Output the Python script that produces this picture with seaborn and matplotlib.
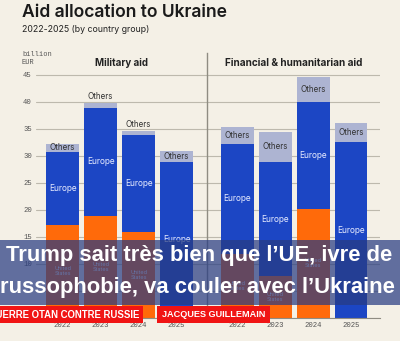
import matplotlib
matplotlib.use("Agg")
import matplotlib.pyplot as plt
import seaborn as sns
import pandas as pd
from matplotlib.patches import Rectangle

years = ["2022", "2023", "2024", "2025"]
mil_us = [17.2, 18.9, 15.9, 0.0]
mil_europe = [13.5, 19.9, 18.0, 28.9]
mil_others = [1.5, 1.0, 0.7, 1.9]
fin_us = [11.9, 7.7, 20.2, 0.0]
fin_europe = [20.3, 21.2, 19.7, 32.5]
fin_others = [3.1, 5.5, 4.7, 3.5]
yticks = [0, 5, 10, 15, 20, 25, 30, 35, 40, 45]
panel_titles = ["Military aid", "Financial & humanitarian aid"]

BG = "#f4f0e6"
BLUE = "#1c46c4"
ORANGE = "#ff6a0a"
GRAY = "#adb4d2"
GRID = "#bdb9ad"
TXT = "#555555"

sns.set_theme(style="white")
plt.rcParams["font.family"] = ["Inter", "DejaVu Sans"]

W, H = 400, 341
fig = plt.figure(figsize=(W / 100, H / 100), dpi=100, facecolor=BG)
x0, x1, xm = 36 / W, 380 / W, 207 / W
yb, yt = 1 - 318 / H, 1 - 53 / H
axL = fig.add_axes([x0, yb, xm - x0, yt - yb])
axR = fig.add_axes([xm, yb, x1 - xm, yt - yb], sharey=axL)

mono = ["Liberation Mono", "DejaVu Sans Mono"]

def draw(ax, us, eu, ot, title, tsize, xlim):
    df = pd.DataFrame({"year": years, "us": us, "eu": eu, "ot": ot})
    df["top_eu"] = df["us"] + df["eu"]
    df["total"] = df["top_eu"] + df["ot"]
    ax.set_facecolor(BG)
    kw = dict(x="year", width=0.86, saturation=1, errorbar=None, ax=ax,
              order=years, linewidth=0)
    sns.barplot(data=df, y="total", color=GRAY, **kw)
    sns.barplot(data=df, y="top_eu", color=BLUE, **kw)
    sns.barplot(data=df, y="us", color=ORANGE, **kw)
    for i, r in df.iterrows():
        if r["us"] > 0:
            ax.text(i, r["us"] / 2, "United\nStates", ha="center", va="center",
                    color="white", fontsize=4, linespacing=1.0)
        ax.text(i, r["us"] + r["eu"] / 2, "Europe", ha="center", va="center",
                color="#e8ecff", fontsize=6)
        if r["ot"] >= 1.3:
            yo, va = r["top_eu"] + r["ot"] / 2, "center"
        else:
            yo, va = r["total"] + 0.4, "bottom"
        ax.text(i, yo, "Others", ha="center", va=va, color="#333333", fontsize=5.8)
    ax.text(0.5, 47.2, title, transform=ax.get_yaxis_transform(),
            ha="center", va="center", fontsize=tsize, fontweight="bold", color="#222222")
    ax.set_xlim(*xlim)
    ax.set_ylim(0, 49)
    ax.set_yticks(yticks)
    ax.yaxis.grid(True, color=GRID, lw=0.8)
    ax.set_axisbelow(True)
    for s in ["top", "right"]:
        ax.spines[s].set_visible(False)
    ax.spines["bottom"].set_color("#8f8c82")
    ax.spines["bottom"].set_linewidth(0.8)
    ax.set_xlabel("")
    ax.set_ylabel("")
    ax.tick_params(axis="both", length=0, pad=3, labelsize=5.2, colors=TXT)
    for lab in ax.get_xticklabels() + ax.get_yticklabels():
        lab.set_family(mono)

draw(axL, mil_us, mil_europe, mil_others, panel_titles[0], 7.0, (-0.70, 3.80))
draw(axR, fin_us, fin_europe, fin_others, panel_titles[1], 7.2, (-0.80, 3.76))
axL.spines["left"].set_visible(False)
axR.spines["left"].set_color("#8f8c82")
axR.spines["left"].set_linewidth(1.0)
axR.tick_params(axis="y", labelleft=False)

fig.text(22 / W, 1 - 4 / H, "Aid allocation to Ukraine", ha="left", va="top",
         fontsize=12.6, fontweight="semibold", color="#1a1a1a")
fig.text(22 / W, 1 - 25 / H, "2022-2025 (by country group)", ha="left", va="top",
         fontsize=6.3, color="#222222")
fig.text(22 / W, 1 - 51 / H, "billion\nEUR", ha="left", va="top", fontsize=5,
         color=TXT, family=mono, linespacing=1.2)

# overlay banner
sans = ["Liberation Sans", "DejaVu Sans"]
fig.patches.append(Rectangle((0, 1 - 305 / H), 1, 65 / H, transform=fig.transFigure,
                             facecolor="#283c82", alpha=0.72, edgecolor="none", zorder=5))
fig.text(0.4975, 1 - 256 / H, "Trump sait très bien que l\u2019UE, ivre de", ha="center",
         va="center", fontsize=15.8, fontweight="bold", color="white",
         family=sans, zorder=6)
fig.text(0.4925, 1 - 287 / H, "russophobie, va couler avec l\u2019Ukraine", ha="center",
         va="center", fontsize=15.8, fontweight="bold", color="white",
         family=sans, zorder=6)
RED = "#f01414"
fig.patches.append(Rectangle((0, 1 - 323 / H), 143 / W, 17 / H, transform=fig.transFigure,
                             facecolor=RED, edgecolor="none", zorder=5))
fig.patches.append(Rectangle((157 / W, 1 - 323 / H), 113 / W, 17 / H, transform=fig.transFigure,
                             facecolor=RED, edgecolor="none", zorder=5))
fig.text(139 / W, 1 - 314.5 / H, "GUERRE OTAN CONTRE RUSSIE", ha="right", va="center",
         fontsize=6.9, fontweight="bold", color="white", family=sans, zorder=6)
fig.text(213.5 / W, 1 - 314.5 / H, "JACQUES GUILLEMAIN", ha="center", va="center",
         fontsize=6.6, fontweight="bold", color="white", family=sans, zorder=6)

fig.savefig("out.png", dpi=100, facecolor=BG)
